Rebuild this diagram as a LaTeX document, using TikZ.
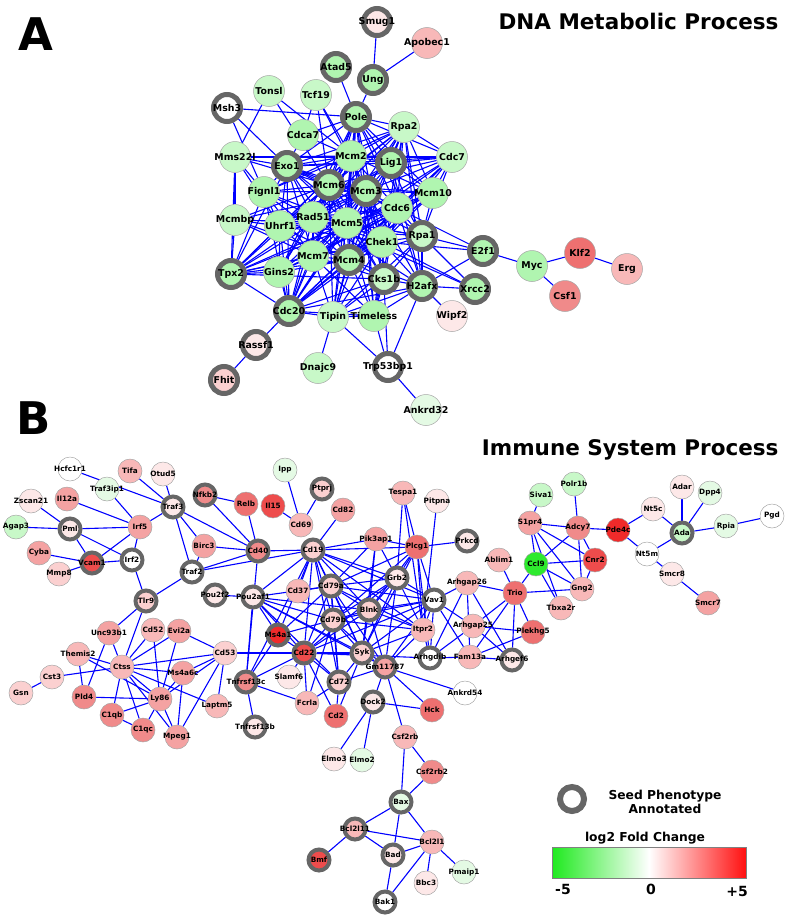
\documentclass[tikz,border=0pt]{standalone}
\usepackage{fontspec}
\setmainfont{DejaVu Sans}
\usepackage{tikz}

\definecolor{linkblue}{HTML}{0000FF}
\definecolor{ringgray}{HTML}{666666}
\definecolor{fcg1}{HTML}{2EEA2E}
\definecolor{fcg2}{HTML}{B0F5B0}
\definecolor{fcg3}{HTML}{C8F8C8}
\definecolor{fcg4}{HTML}{E4FAE4}
\definecolor{fcr1}{HTML}{FDE8E8}
\definecolor{fcr2}{HTML}{FBD0D0}
\definecolor{fcr3}{HTML}{F8B8B8}
\definecolor{fcr4}{HTML}{F4A2A2}
\definecolor{fcr5}{HTML}{F08A8A}
\definecolor{fcr6}{HTML}{EE7070}
\definecolor{fcr7}{HTML}{EE4C4C}
\definecolor{fcr8}{HTML}{F02A2A}
\definecolor{barlow}{HTML}{1EEA1E}
\definecolor{barhigh}{HTML}{FF1010}

\newcommand\lblA{\fontsize{9.4}{10}\selectfont\bfseries}
\newcommand\lblB{\fontsize{7.3}{8}\selectfont\bfseries}
\newcommand\bigletter{\fontsize{45}{50}\selectfont\bfseries}
\newcommand\titlefont{\fontsize{21.5}{24}\selectfont\bfseries}
\newcommand\legfont{\fontsize{12.3}{14}\selectfont\bfseries}
\newcommand\numfont{\fontsize{14}{16}\selectfont\bfseries}

\pgfdeclarelayer{links}
\pgfsetlayers{links,main}

\tikzset{
  gene/.style={circle, inner sep=0pt, draw=gray!70, line width=0.5pt,
    execute at begin node={\hbox to 0pt\bgroup\hss},
    execute at end node={\hss\egroup}},
  geneA/.style={gene, minimum size=31pt, font=\lblA},
  seedA/.style={geneA, draw=ringgray, line width=5pt, minimum size=27pt},
  geneB/.style={gene, minimum size=24pt, font=\lblB},
  seedB/.style={geneB, draw=ringgray, line width=4pt, minimum size=21pt},
  every edge/.style={draw=linkblue, line width=1.1pt},
}

\begin{document}
\begin{tikzpicture}[x=1pt, y=-1pt]
    \useasboundingbox (0,0) rectangle (790,918);

    % panel A
    \node[seedA, fill=fcr1] (Smug1) at (377,22) {Smug1};
    \node[geneA, fill=fcr3] (Apobec1) at (427,43) {Apobec1};
    \node[seedA, fill=fcg2] (Atad5) at (336,67) {Atad5};
    \node[seedA, fill=fcg2] (Ung) at (373,80) {Ung};
    \node[geneA, fill=fcg3] (Tonsl) at (269,91) {Tonsl};
    \node[geneA, fill=fcg3] (Tcf19) at (316,95) {Tcf19};
    \node[seedA, fill=white] (Msh3) at (227,108) {Msh3};
    \node[seedA, fill=fcg2] (Pole) at (356,117) {Pole};
    \node[geneA, fill=fcg3] (Rpa2) at (404,127) {Rpa2};
    \node[geneA, fill=fcg2] (Cdca7) at (303,135) {Cdca7};
    \node[geneA, fill=fcg3] (Mms22l) at (235,157) {Mms22l};
    \node[seedA, fill=fcg2] (Exo1) at (287,166) {Exo1};
    \node[geneA, fill=fcg2] (Mcm2) at (351,156) {Mcm2};
    \node[seedA, fill=fcg2] (Lig1) at (391,163) {Lig1};
    \node[geneA, fill=fcg3] (Cdc7) at (452,157) {Cdc7};
    \node[seedA, fill=fcg2] (Mcm6) at (329,185) {Mcm6};
    \node[seedA, fill=fcg2] (Mcm3) at (366,191) {Mcm3};
    \node[geneA, fill=fcg2] (Fignl1) at (264,192) {Fignl1};
    \node[geneA, fill=fcg2] (Mcm10) at (433,193) {Mcm10};
    \node[geneA, fill=fcg2] (Cdc6) at (397,208) {Cdc6};
    \node[geneA, fill=fcg3] (Mcmbp) at (235,220) {Mcmbp};
    \node[geneA, fill=fcg2] (Uhrf1) at (280,226) {Uhrf1};
    \node[geneA, fill=fcg2] (Rad51) at (313,217) {Rad51};
    \node[geneA, fill=fcg2] (Mcm5) at (347,223) {Mcm5};
    \node[geneA, fill=fcg2] (Chek1) at (382,242) {Chek1};
    \node[seedA, fill=fcg3] (Rpa1) at (422,236) {Rpa1};
    \node[seedA, fill=fcg2] (E2f1) at (483,251) {E2f1};
    \node[seedA, fill=fcg2] (Tpx2) at (231,274) {Tpx2};
    \node[geneA, fill=fcg2] (Gins2) at (279,272) {Gins2};
    \node[geneA, fill=fcg2] (Mcm7) at (313,256) {Mcm7};
    \node[seedA, fill=fcg2] (Mcm4) at (349,260) {Mcm4};
    \node[seedA, fill=fcg3] (Cks1b) at (384,279) {Cks1b};
    \node[seedA, fill=fcg2] (H2afx) at (422,286) {H2afx};
    \node[seedA, fill=fcg2] (Xrcc2) at (475,289) {Xrcc2};
    \node[seedA, fill=fcg2] (Cdc20) at (289,311) {Cdc20};
    \node[geneA, fill=fcg3] (Tipin) at (333,317) {Tipin};
    \node[geneA, fill=fcg2] (Timeless) at (374,316) {Timeless};
    \node[geneA, fill=fcr1] (Wipf2) at (452,316) {Wipf2};
    \node[seedA, fill=fcr1] (Rassf1) at (256,345) {Rassf1};
    \node[geneA, fill=fcg3] (Dnajc9) at (318,368) {Dnajc9};
    \node[seedA, fill=white] (Trp53bp1) at (388,367) {Trp53bp1};
    \node[seedA, fill=fcr2] (Fhit) at (224,380) {Fhit};
    \node[geneA, fill=fcg4] (Ankrd32) at (426,410) {Ankrd32};
    \node[geneA, fill=fcg2] (Myc) at (532,266) {Myc};
    \node[geneA, fill=fcr6] (Klf2) at (580,253) {Klf2};
    \node[geneA, fill=fcr3] (Erg) at (627,269) {Erg};
    \node[geneA, fill=fcr5] (Csf1) at (565,296) {Csf1};

    % panel B
    \node[geneB, fill=white] (Hcfc1r1) at (70,469) {Hcfc1r1};
    \node[geneB, fill=fcr3] (Tifa) at (130,471) {Tifa};
    \node[geneB, fill=fcr1] (Otud5) at (163,474) {Otud5};
    \node[geneB, fill=fcg4] (Ipp) at (285,470) {Ipp};
    \node[geneB, fill=fcg4] (Traf3ip1) at (107,489) {Traf3ip1};
    \node[geneB, fill=fcr1] (Zscan21) at (31,501) {Zscan21};
    \node[geneB, fill=fcr4] (Il12a) at (67,499) {Il12a};
    \node[seedB, fill=fcr5] (Nfkb2) at (205,495) {Nfkb2};
    \node[geneB, fill=fcr6] (Relb) at (246,504) {Relb};
    \node[geneB, fill=fcr7] (Il15) at (273,506) {Il15};
    \node[seedB, fill=fcr1] (Traf3) at (173,507) {Traf3};
    \node[seedB, fill=fcr2] (Ptprj) at (322,489) {Ptprj};
    \node[geneB, fill=fcr3] (Tespa1) at (403,493) {Tespa1};
    \node[geneB, fill=fcr1] (Pitpna) at (437,501) {Pitpna};
    \node[geneB, fill=fcr4] (Cd82) at (343,510) {Cd82};
    \node[geneB, fill=fcr3] (Cd69) at (301,525) {Cd69};
    \node[geneB, fill=fcg3] (Agap3) at (16,527) {Agap3};
    \node[seedB, fill=fcr1] (Pml) at (70,529) {Pml};
    \node[geneB, fill=fcr4] (Irf5) at (140,527) {Irf5};
    \node[geneB, fill=fcr4] (Pik3ap1) at (376,539) {Pik3ap1};
    \node[geneB, fill=fcr6] (Plcg1) at (417,547) {Plcg1};
    \node[seedB, fill=fcr1] (Prkcd) at (467,541) {Prkcd};
    \node[geneB, fill=fcr4] (Birc3) at (204,546) {Birc3};
    \node[seedB, fill=fcr5] (Cd40) at (258,551) {Cd40};
    \node[seedB, fill=fcr2] (Cd19) at (313,550) {Cd19};
    \node[geneB, fill=fcr4] (Cyba) at (39,553) {Cyba};
    \node[seedB, fill=fcr7] (Vcam1) at (92,563) {Vcam1};
    \node[seedB, fill=white] (Irf2) at (132,560) {Irf2};
    \node[geneB, fill=fcr2] (Mmp8) at (59,574) {Mmp8};
    \node[seedB, fill=white] (Traf2) at (192,572) {Traf2};
    \node[geneB, fill=fcr3] (Ablim1) at (499,560) {Ablim1};
    \node[seedB, fill=fcr1] (Grb2) at (397,578) {Grb2};
    \node[seedB, fill=fcr2] (Cd79a) at (331,586) {Cd79a};
    \node[geneB, fill=fcr3] (Cd37) at (298,591) {Cd37};
    \node[geneB, fill=fcr3] (Arhgap26) at (467,583) {Arhgap26};
    \node[seedB, fill=white] (Vav1) at (434,600) {Vav1};
    \node[seedB, fill=fcr2] (Tlr9) at (146,601) {Tlr9};
    \node[seedB, fill=fcr1] (Pou2f2) at (215,595) {Pou2f2};
    \node[seedB, fill=fcr1] (Pou2af1) at (253,597) {Pou2af1};
    \node[seedB, fill=fcr2] (Blnk) at (369,610) {Blnk};
    \node[seedB, fill=fcr2] (Cd79b) at (333,620) {Cd79b};
    \node[geneB, fill=fcr3] (Itpr2) at (423,630) {Itpr2};
    \node[geneB, fill=fcr3] (Arhgap25) at (473,626) {Arhgap25};
    \node[seedB, fill=fcr8] (Ms4a1) at (278,635) {Ms4a1};
    \node[geneB, fill=fcr4] (Unc93b1) at (109,633) {Unc93b1};
    \node[geneB, fill=fcr3] (Cd52) at (153,630) {Cd52};
    \node[geneB, fill=fcr4] (Evi2a) at (179,631) {Evi2a};
    \node[seedB, fill=fcr7] (Cd22) at (304,653) {Cd22};
    \node[seedB, fill=fcr2] (Syk) at (362,653) {Syk};
    \node[seedB, fill=fcr4] (Gm11787) at (385,667) {Gm11787};
    \node[seedB, fill=white] (Arhgdib) at (430,658) {Arhgdib};
    \node[geneB, fill=fcr3] (Fam13a) at (470,657) {Fam13a};
    \node[seedB, fill=fcr1] (Arhgef6) at (512,660) {Arhgef6};
    \node[geneB, fill=fcr1] (Slamf6) at (289,677) {Slamf6};
    \node[geneB, fill=fcr6] (Plekhg5) at (533,632) {Plekhg5};
    \node[geneB, fill=fcr6] (Trio) at (515,593) {Trio};
    \node[geneB, fill=fcr3] (Tbxa2r) at (561,608) {Tbxa2r};
    \node[geneB, fill=fcg3] (Polr1b) at (574,484) {Polr1b};
    \node[geneB, fill=fcg3] (Siva1) at (541,495) {Siva1};
    \node[geneB, fill=fcr1] (Adar) at (682,487) {Adar};
    \node[geneB, fill=fcg4] (Dpp4) at (710,493) {Dpp4};
    \node[geneB, fill=fcr1] (Nt5c) at (653,509) {Nt5c};
    \node[geneB, fill=white] (Pgd) at (772,516) {Pgd};
    \node[geneB, fill=fcr4] (S1pr4) at (530,523) {S1pr4};
    \node[geneB, fill=fcr5] (Adcy7) at (578,528) {Adcy7};
    \node[geneB, fill=fcr8] (Pde4c) at (618,530) {Pde4c};
    \node[seedB, fill=fcg3] (Ada) at (682,533) {Ada};
    \node[geneB, fill=fcg4] (Rpia) at (726,526) {Rpia};
    \node[geneB, fill=white] (Nt5m) at (647,554) {Nt5m};
    \node[geneB, fill=fcg1] (Ccl9) at (536,564) {Ccl9};
    \node[geneB, fill=fcr7] (Cnr2) at (595,560) {Cnr2};
    \node[geneB, fill=fcr1] (Smcr8) at (672,574) {Smcr8};
    \node[geneB, fill=fcr3] (Gng2) at (582,589) {Gng2};
    \node[geneB, fill=fcr4] (Smcr7) at (708,603) {Smcr7};
    \node[geneB, fill=fcr3] (Themis2) at (78,654) {Themis2};
    \node[geneB, fill=fcr3] (Ctss) at (122,667) {Ctss};
    \node[geneB, fill=fcr2] (Cd53) at (225,653) {Cd53};
    \node[geneB, fill=fcr4] (Ms4a6c) at (183,673) {Ms4a6c};
    \node[geneB, fill=fcr2] (Cst3) at (52,677) {Cst3};
    \node[geneB, fill=fcr2] (Gsn) at (21,693) {Gsn};
    \node[seedB, fill=fcr5] (Tnfrsf13c) at (246,682) {Tnfrsf13c};
    \node[geneB, fill=fcr5] (Pld4) at (84,697) {Pld4};
    \node[geneB, fill=fcr4] (Ly86) at (160,699) {Ly86};
    \node[geneB, fill=fcr3] (Laptm5) at (217,706) {Laptm5};
    \node[geneB, fill=fcr5] (C1qb) at (112,715) {C1qb};
    \node[geneB, fill=fcr5] (C1qc) at (143,730) {C1qc};
    \node[geneB, fill=fcr4] (Mpeg1) at (177,737) {Mpeg1};
    \node[seedB, fill=fcr1] (Tnfrsf13b) at (255,727) {Tnfrsf13b};
    \node[seedB, fill=fcr2] (Cd72) at (339,682) {Cd72};
    \node[geneB, fill=fcr3] (Fcrla) at (307,703) {Fcrla};
    \node[geneB, fill=fcr6] (Cd2) at (336,716) {Cd2};
    \node[seedB, fill=fcr1] (Dock2) at (373,702) {Dock2};
    \node[geneB, fill=white] (Ankrd54) at (465,693) {Ankrd54};
    \node[geneB, fill=fcr6] (Hck) at (432,710) {Hck};
    \node[geneB, fill=fcr3] (Csf2rb) at (405,737) {Csf2rb};
    \node[geneB, fill=fcr1] (Elmo3) at (334,759) {Elmo3};
    \node[geneB, fill=fcg4] (Elmo2) at (362,760) {Elmo2};
    \node[geneB, fill=fcr5] (Csf2rb2) at (432,772) {Csf2rb2};
    \node[seedB, fill=fcg4] (Bax) at (401,802) {Bax};
    \node[seedB, fill=fcr3] (Bcl2l11) at (355,829) {Bcl2l11};
    \node[geneB, fill=fcr3] (Bcl2l1) at (432,842) {Bcl2l1};
    \node[seedB, fill=fcr1] (Bad) at (393,855) {Bad};
    \node[seedB, fill=fcr7] (Bmf) at (319,860) {Bmf};
    \node[geneB, fill=fcg4] (Pmaip1) at (464,872) {Pmaip1};
    \node[geneB, fill=fcr1] (Bbc3) at (426,883) {Bbc3};
    \node[seedB, fill=white] (Bak1) at (385,902) {Bak1};

    % connectors, behind the nodes
    \begin{pgfonlayer}{links}
    \path (Ung) edge (Smug1) edge (Apobec1) edge (Pole);
    \path (Pole) edge (Atad5) edge (Msh3) edge (Rpa2) edge (Mcm2) edge (Mcm3) edge (Mcm4) edge (Mcm5) edge (Mcm6) edge (Mcm7) edge (Lig1) edge (Cdc6) edge (Cdc7) edge (Exo1) edge (Rpa1) edge (Chek1) edge (Rad51) edge (Tipin) edge (Timeless) edge (Gins2) edge (Mcm10) edge (Cdca7);
    \path (Rpa2) edge (Mcm2) edge (Mcm3) edge (Mcm4) edge (Mcm5) edge (Mcm6) edge (Mcm7) edge (Lig1) edge (Cdc7) edge (Mcm10) edge (Cdc6) edge (Rpa1) edge (Chek1) edge (Rad51) edge (Exo1) edge (Uhrf1) edge (Tipin) edge (Timeless) edge (H2afx) edge (Fignl1);
    \path (Cdc7) edge (Mcm2) edge (Mcm3) edge (Mcm4) edge (Mcm5) edge (Mcm6) edge (Mcm7) edge (Mcm10) edge (Lig1) edge (Cdc6) edge (Chek1) edge (Rpa1) edge (Exo1) edge (Mms22l) edge (Cdc20);
    \path (Mcm10) edge (Mcm2) edge (Mcm3) edge (Mcm4) edge (Mcm5) edge (Mcm6) edge (Mcm7) edge (Cdc6) edge (Lig1) edge (Chek1) edge (Rpa1) edge (Gins2) edge (Cdc20);
    \path (Mcm2) edge (Mcm3) edge (Mcm4) edge (Mcm5) edge (Mcm6) edge (Mcm7) edge (Cdc6) edge (Exo1) edge (Lig1) edge (Rad51) edge (Chek1) edge (Uhrf1) edge (Fignl1) edge (Gins2) edge (Cdc20) edge (Tpx2) edge (Cks1b) edge (Mms22l) edge (Cdca7) edge (Tcf19) edge (Tonsl);
    \path (Mcm3) edge (Mcm4) edge (Mcm5) edge (Mcm6) edge (Mcm7) edge (Cdc6) edge (Chek1) edge (Lig1) edge (Rad51) edge (Uhrf1) edge (Gins2) edge (Cdc20) edge (Tpx2) edge (Cks1b) edge (Exo1) edge (Fignl1) edge (Mcmbp) edge (Rpa1) edge (H2afx) edge (Timeless) edge (Tipin);
    \path (Mcm4) edge (Mcm5) edge (Mcm6) edge (Mcm7) edge (Cdc6) edge (Chek1) edge (Uhrf1) edge (Gins2) edge (Cdc20) edge (Tpx2) edge (Cks1b) edge (Tipin) edge (Timeless) edge (Rpa1) edge (H2afx) edge (Mcmbp) edge (Exo1) edge (Fignl1);
    \path (Mcm5) edge (Mcm6) edge (Mcm7) edge (Cdc6) edge (Chek1) edge (Uhrf1) edge (Rad51) edge (Gins2) edge (Cdc20) edge (Tpx2) edge (Cks1b) edge (Tipin) edge (Timeless) edge (Mcmbp) edge (Exo1) edge (Fignl1) edge (Rpa1);
    \path (Mcm6) edge (Mcm7) edge (Cdc6) edge (Chek1) edge (Uhrf1) edge (Gins2) edge (Cdc20) edge (Tpx2) edge (Cks1b) edge (Exo1) edge (Fignl1) edge (Mcmbp) edge (Mms22l) edge (Tipin) edge (Rad51) edge (Tcf19) edge (Tonsl);
    \path (Mcm7) edge (Cdc6) edge (Chek1) edge (Uhrf1) edge (Gins2) edge (Cdc20) edge (Tpx2) edge (Cks1b) edge (Tipin) edge (Timeless) edge (Mcmbp) edge (Exo1) edge (Fignl1) edge (Rad51);
    \path (Cdc6) edge (Chek1) edge (Rpa1) edge (Cdc20) edge (Cks1b) edge (Exo1) edge (Uhrf1) edge (Rad51) edge (H2afx) edge (E2f1) edge (Tpx2) edge (Timeless);
    \path (Chek1) edge (Rpa1) edge (H2afx) edge (Rad51) edge (Exo1) edge (Cdc20) edge (Cks1b) edge (Tipin) edge (Timeless) edge (Xrcc2) edge (Trp53bp1) edge (Uhrf1) edge (Tpx2) edge (E2f1);
    \path (Rad51) edge (Exo1) edge (Fignl1) edge (Uhrf1) edge (Rpa1) edge (H2afx) edge (Xrcc2) edge (Tpx2) edge (Cdc20) edge (Lig1);
    \path (Exo1) edge (Msh3) edge (Mms22l) edge (Lig1) edge (Fignl1) edge (Uhrf1) edge (Rpa1) edge (Tpx2) edge (Cdc20) edge (Cdca7);
    \path (Lig1) edge (Rpa1) edge (Uhrf1) edge (Cdc20) edge (H2afx);
    \path (Tpx2) edge (Uhrf1) edge (Cdc20) edge (Gins2) edge (Cks1b) edge (Fignl1) edge (Mcmbp) edge (Mms22l);
    \path (Cdc20) edge (Cks1b) edge (Uhrf1) edge (Gins2) edge (Rassf1) edge (Tipin) edge (Timeless) edge (H2afx) edge (Fignl1);
    \path (H2afx) edge (Rpa1) edge (Xrcc2) edge (Wipf2) edge (Trp53bp1) edge (Cks1b) edge (Timeless) edge (Tipin) edge (E2f1);
    \path (Tipin) edge (Timeless) edge (Dnajc9) edge (Trp53bp1) edge (Rpa1) edge (Cks1b);
    \path (Timeless) edge (Trp53bp1) edge (Cks1b);
    \path (Rpa1) edge (E2f1) edge (Xrcc2) edge (Cks1b) edge (Uhrf1);
    \path (Msh3) edge (Fignl1);
    \path (Tonsl) edge (Mms22l);
    \path (Tcf19) edge (Cdca7) edge (Mcm3);
    \path (Mms22l) edge (Fignl1) edge (Uhrf1) edge (Mcmbp);
    \path (Uhrf1) edge (Fignl1) edge (Gins2) edge (Mcmbp);
    \path (Myc) edge (E2f1) edge (Klf2) edge (Csf1);
    \path (Klf2) edge (Erg);
    \path (Rassf1) edge (Fhit);
    \path (Trp53bp1) edge (Ankrd32);

    \path (Traf3) edge (Tifa) edge (Otud5) edge (Hcfc1r1) edge (Irf5) edge (Birc3) edge (Traf2) edge (Cd40);
    \path (Irf5) edge (Il12a) edge (Traf3ip1) edge (Pml) edge (Vcam1) edge (Irf2);
    \path (Pml) edge (Zscan21) edge (Agap3) edge (Vcam1) edge (Irf2);
    \path (Vcam1) edge (Cyba) edge (Mmp8) edge (Irf2);
    \path (Tlr9) edge (Irf2) edge (Traf2) edge (Unc93b1) edge (Ctss);
    \path (Cd40) edge (Birc3) edge (Traf2) edge (Nfkb2) edge (Relb) edge (Cd19) edge (Tnfrsf13c);
    \path (Nfkb2) edge (Relb);
    \path (Traf2) edge (Birc3) edge (Cd19);
    \path (Cd69) edge (Ipp) edge (Ptprj) edge (Il15);
    \path (Pou2af1) edge (Pou2f2) edge (Cd19) edge (Cd79a) edge (Cd79b) edge (Ms4a1) edge (Cd22) edge (Syk) edge (Blnk) edge (Tnfrsf13c) edge (Cd72) edge (Gm11787);
    \path (Cd19) edge (Cd82) edge (Pik3ap1) edge (Plcg1) edge (Grb2) edge (Cd79a) edge (Cd79b) edge (Blnk) edge (Vav1) edge (Syk) edge (Cd22) edge (Ms4a1) edge (Cd37) edge (Cd72) edge (Itpr2) edge (Tnfrsf13c);
    \path (Pik3ap1) edge (Grb2) edge (Blnk) edge (Syk) edge (Cd79a) edge (Plcg1);
    \path (Plcg1) edge (Tespa1) edge (Prkcd) edge (Grb2) edge (Vav1) edge (Itpr2) edge (Blnk) edge (Syk) edge (Cd79a) edge (Cd79b) edge (Arhgdib);
    \path (Itpr2) edge (Tespa1) edge (Pitpna);
    \path (Grb2) edge (Tespa1) edge (Vav1) edge (Blnk) edge (Syk) edge (Itpr2) edge (Cd79a) edge (Cd79b) edge (Gm11787) edge (Cd22);
    \path (Vav1) edge (Blnk) edge (Syk) edge (Itpr2) edge (Arhgdib) edge (Fam13a) edge (Cd79a) edge (Cd79b) edge (Cd22) edge (Gm11787) edge (Arhgap25);
    \path (Cd79a) edge (Cd79b) edge (Blnk) edge (Syk) edge (Cd22) edge (Ms4a1) edge (Itpr2) edge (Gm11787) edge (Cd37) edge (Cd72);
    \path (Cd79b) edge (Blnk) edge (Syk) edge (Cd22) edge (Ms4a1) edge (Itpr2) edge (Gm11787) edge (Cd72) edge (Fcrla);
    \path (Blnk) edge (Syk) edge (Itpr2) edge (Gm11787) edge (Cd22);
    \path (Syk) edge (Cd22) edge (Gm11787) edge (Cd72) edge (Itpr2) edge (Cd2);
    \path (Cd22) edge (Ms4a1) edge (Cd72) edge (Fcrla) edge (Cd2) edge (Slamf6) edge (Arhgdib) edge (Cd53);
    \path (Tnfrsf13c) edge (Ms4a1) edge (Tnfrsf13b) edge (Fcrla) edge (Cd22);
    \path (Gm11787) edge (Cd72) edge (Dock2) edge (Ankrd54) edge (Hck) edge (Csf2rb) edge (Itpr2);
    \path (Dock2) edge (Hck) edge (Elmo3) edge (Elmo2);
    \path (Cd72) edge (Cd2) edge (Fcrla);
    \path (Csf2rb) edge (Csf2rb2) edge (Bax);
    \path (Bax) edge (Csf2rb2) edge (Bcl2l11) edge (Bad) edge (Bcl2l1);
    \path (Bcl2l11) edge (Bcl2l1) edge (Bad) edge (Bmf);
    \path (Bcl2l1) edge (Bad) edge (Bak1) edge (Bbc3) edge (Pmaip1);
    \path (Bad) edge (Bak1);
    \path (Arhgdib) edge (Arhgap26) edge (Fam13a) edge (Itpr2) edge (Arhgap25);
    \path (Arhgap26) edge (Trio) edge (Arhgef6) edge (Fam13a) edge (Vav1);
    \path (Arhgap25) edge (Plekhg5) edge (Trio) edge (Arhgef6);
    \path (Fam13a) edge (Arhgef6) edge (Trio) edge (Plekhg5);
    \path (Trio) edge (Ablim1) edge (Ccl9) edge (Gng2) edge (Plekhg5) edge (Arhgef6);
    \path (Ccl9) edge (S1pr4) edge (Adcy7) edge (Cnr2) edge (Gng2) edge (Tbxa2r);
    \path (S1pr4) edge (Siva1) edge (Adcy7) edge (Cnr2) edge (Gng2) edge (Tbxa2r);
    \path (Adcy7) edge (Polr1b) edge (Pde4c) edge (Cnr2) edge (Gng2);
    \path (Gng2) edge (Cnr2);
    \path (Pde4c) edge (Nt5c) edge (Nt5m);
    \path (Ada) edge (Nt5c) edge (Nt5m) edge (Adar) edge (Dpp4) edge (Rpia);
    \path (Rpia) edge (Pgd);
    \path (Smcr8) edge (Nt5m) edge (Smcr7);
    \path (Ctss) edge (Themis2) edge (Cst3) edge (Unc93b1) edge (Cd52) edge (Evi2a) edge (Ms4a6c) edge (Ly86) edge (Laptm5) edge (C1qb) edge (C1qc) edge (Mpeg1) edge (Cd53);
    \path (Ly86) edge (Themis2) edge (Pld4) edge (Cd52) edge (Evi2a) edge (Ms4a6c) edge (C1qb) edge (C1qc) edge (Mpeg1) edge (Cd53);
    \path (Cd53) edge (Evi2a) edge (Ms4a6c) edge (Laptm5) edge (Mpeg1);
    \path (Pld4) edge (Themis2) edge (Unc93b1);
    \path (Cst3) edge (Gsn);
    \path (C1qb) edge (C1qc);
    \path (Ms4a6c) edge (Mpeg1);
    \end{pgfonlayer}

    % titles
    \node[font=\bigletter] (labA) at (36,34) {A};
    \node[font=\titlefont, anchor=east] (titleA) at (782,21) {DNA Metabolic Process};
    \node[font=\bigletter] (labB) at (34,418) {B};
    \node[font=\titlefont, anchor=east] (titleB) at (782,450) {Immune System Process};

    % legend
    \node[circle, draw=ringgray, line width=6pt, minimum size=24pt, inner sep=0pt] (legring) at (572,799) {};
    \node[font=\legfont, align=center] (legseed) at (665,802) {Seed Phenotype\\Annotated};
    \node[font=\legfont] (legfc) at (645,838) {log2 Fold Change};
    \node[draw=gray, line width=0.6pt, minimum width=194pt, minimum height=31pt, inner sep=0pt,
          left color=barlow, right color=barhigh, middle color=white] (fcbar) at (649,862.5) {};
    \node[font=\numfont] (lowval) at (563,889) {-5};
    \node[font=\numfont] (midval) at (651,889) {0};
    \node[font=\numfont] (highval) at (737,891) {+5};
\end{tikzpicture}
\end{document}
